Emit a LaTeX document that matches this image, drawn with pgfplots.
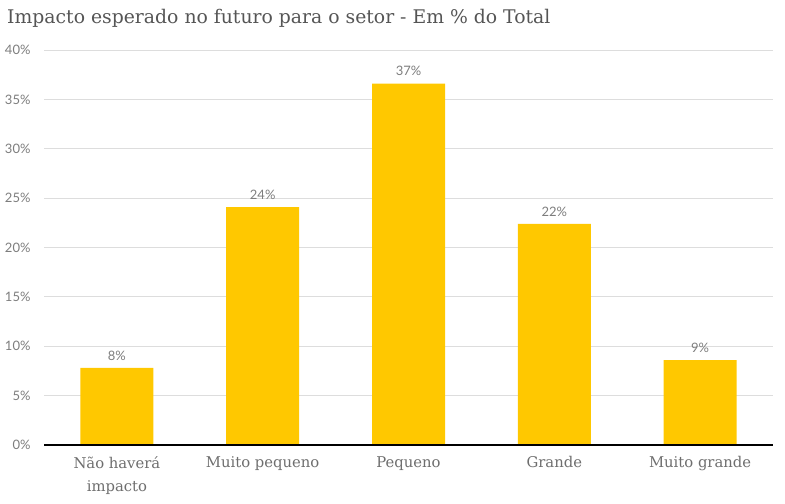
\documentclass[border=0pt]{standalone}
\usepackage{pgfplots}
\pgfplotsset{compat=1.18}
\usepackage{fontspec}
\setmainfont{DejaVu Serif}
\newfontfamily\tickfont{Lato}
\definecolor{baryellow}{RGB}{255,200,0}
\definecolor{titlegray}{RGB}{85,85,85}
\definecolor{labgray}{RGB}{110,110,110}
\definecolor{ticklab}{RGB}{125,125,125}
\definecolor{gridgray}{RGB}{221,221,221}
\begin{document}
\begin{tikzpicture}[x=1bp,y=1bp]
\useasboundingbox (0,0) rectangle (785,504);
\node[anchor=west,text=titlegray,font=\fontsize{18.8bp}{21bp}\selectfont,inner sep=0pt] at (7,486) {Impacto esperado no futuro para o setor - Em \% do Total};
\begin{axis}[
  at={(44bp,59bp)}, anchor=south west,
  scale only axis, width=729bp, height=395bp,
  ymin=0, ymax=40, xmin=-0.5, xmax=4.5,
  ytick={0,5,...,40},
  yticklabel={\pgfmathprintnumber{\tick}\%},
  yticklabel style={font=\tickfont\fontsize{13bp}{15bp}\selectfont, text=ticklab, xshift=-10bp},
  /pgf/number format/assume math mode=true,
  xtick=data,
  xticklabels={{Não haverá\\impacto},{Muito pequeno},{Pequeno},{Grande},{Muito grande}},
  xticklabel style={align=center, font=\fontsize{14.8bp}{23bp}\selectfont, text=labgray, anchor=north, yshift=-8bp},
  ymajorgrids, grid style={gridgray, line width=0.8bp},
  major tick length=0pt,
  axis line style={draw=none},
  axis x line*=bottom, axis y line*=left,
  ybar, bar width=73bp,
  nodes near coords={\pgfmathprintnumber[fixed,precision=0]{\pgfplotspointmeta}\%},
  nodes near coords style={font=\tickfont\fontsize{13bp}{15bp}\selectfont, text=ticklab, yshift=4bp},
  clip=false,
]
\addplot[fill=baryellow, draw=none] coordinates {(0,7.8) (1,24.1) (2,36.6) (3,22.4) (4,8.6)};
\draw[black, line width=1.5bp] (axis cs:-0.5,0) -- (axis cs:4.5,0);
\end{axis}
\end{tikzpicture}
\end{document}
